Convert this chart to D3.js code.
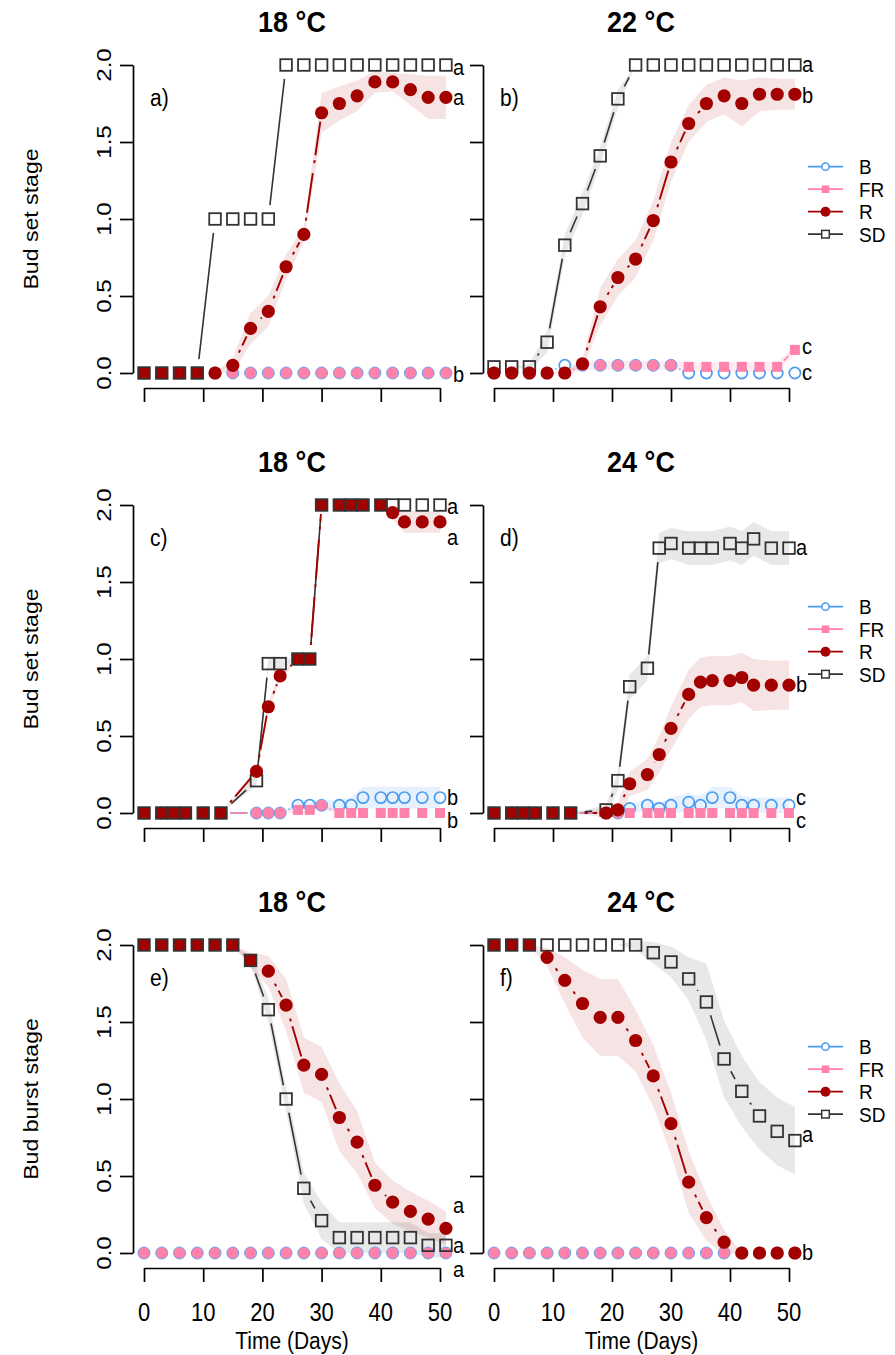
<!DOCTYPE html>
<html><head><meta charset="utf-8">
<script src="https://cdn.jsdelivr.net/npm/d3@7"></script>
<style>
body{margin:0;background:#fff}
svg{display:block}
text{font-family:"Liberation Sans",Arial,Helvetica,sans-serif;fill:#000}
</style>
</head><body>
<svg id="chart" width="895" height="1355"></svg>
<script>
// ---------------- data ----------------
const daysA = [0,3,6,9,12,15,18,21,24,27,30,33,36,39,42,45,48,51];
const daysC = [0,3,5,7,10,13,19,21,23,26,28,30,33,35,37,40,42,44,47,50];
const seriesNames = ["B","FR","R","SD"];
const titles = ["18 °C","22 °C","18 °C","24 °C","18 °C","24 °C"];
const panelLabels = ["a)","b)","c)","d)","e)","f)"];
const yTitles = ["Bud set stage","Bud set stage","Bud burst stage"];
const xTicks = [0,10,20,30,40,50];
const yTicks = [0,0.5,1,1.5,2];
const yTickLabels = ["0.0","0.5","1.0","1.5","2.0"];
const xTitle = "Time (Days)";

// panel a (18 °C, bud set)
const B_a  = [0,0,0,0,0,0,0,0,0,0,0,0,0,0,0,0,0,0];
const FR_a = [0,0,0,0,0,0,0,0,0,0,0,0,0,0,0,0,0,0];
const R_a  = [0,0,0,0,0,0.05,0.29,0.4,0.69,0.9,1.69,1.75,1.8,1.89,1.89,1.84,1.79,1.79];
const SD_a = [0,0,0,0,1,1,1,1,2,2,2,2,2,2,2,2,2,2];
const seR_a = [0,0,0,0,0,0.05,0.1,0.1,0.08,0.05,0.13,0.11,0.1,0.07,0.06,0.1,0.14,0.14];
const letters_a = ["a","a","b"];
const letterVals_a = [1.98,1.79,-0.01];

// panel b (22 °C, bud set)
const B_b  = [0,0,0,0,0.05,0.05,0.05,0.05,0.05,0.05,0.05,0,0,0,0,0,0,0];
const FR_b = [0,0,0,0,0,0.05,0.05,0.05,0.05,0.05,0.05,0.04,0.04,0.04,0.04,0.04,0.04,0.15];
const R_b  = [0,0,0,0,0,0.06,0.43,0.62,0.74,0.99,1.37,1.62,1.75,1.8,1.75,1.81,1.81,1.81];
const SD_b = [0.04,0.04,0.04,0.2,0.83,1.1,1.41,1.78,2,2,2,2,2,2,2,2,2,2];
const seFR_b = [0,0,0,0,0.03,0.03,0.03,0.03,0.03,0.03,0.03,0.03,0.03,0.03,0.03,0.03,0.03,0.03];
const seR_b = [0,0,0,0,0,0.03,0.12,0.12,0.12,0.13,0.13,0.12,0.12,0.12,0.15,0.11,0.1,0.1];
const seSD_b = [0,0,0.02,0.07,0.07,0.07,0.06,0.06,0,0,0,0,0,0,0,0,0,0];
const letters_b = ["a","b","c","c"];
const letterVals_b = [2.0,1.8,0.17,0.0];

// panel c (18 °C, bud set)
const B_c  = [0,0,0,0,0,0,0,0,0,0.05,0.05,0.05,0.05,0.05,0.1,0.1,0.1,0.1,0.1,0.1];
const FR_c = [0,0,0,0,0,0,0,0,0,0.02,0.02,0.05,0,0,0,0,0,0,0,0];
const R_c  = [0,0,0,0,0,0,0.27,0.69,0.89,1,1,2,2,2,2,2,1.95,1.89,1.89,1.89];
const SD_c = [0,0,0,0,0,0,0.21,0.97,0.97,1,1,2,2,2,2,2,2,2,2,2];
const seB_c = [0,0,0,0,0,0,0,0,0,0.02,0.02,0.03,0.04,0.05,0.07,0.07,0.07,0.07,0.07,0.07];
const seFR_c = [0,0,0,0,0,0,0,0,0,0.02,0.02,0.02,0,0,0,0,0,0,0,0];
const seR_c = [0,0,0,0,0,0,0.03,0.03,0.03,0,0,0,0,0,0,0,0.04,0.07,0.07,0.07];
const seSD_c = [0,0,0,0,0,0,0.03,0.04,0.04,0,0,0,0,0,0,0,0,0,0,0];
const letters_c = ["a","a","b","b"];
const letterVals_c = [1.99,1.79,0.1,-0.05];

// panel d (24 °C, bud set)
const B_d  = [0,0,0,0,0,0,0,0,0.03,0.05,0.03,0.05,0.07,0.05,0.1,0.1,0.05,0.05,0.05,0.05];
const FR_d = [0,0,0,0,0,0,0,0,0,0,0,0,0,0,0,0,0,0,0,0];
const R_d  = [0,0,0,0,0,0,0,0.02,0.19,0.25,0.38,0.55,0.77,0.85,0.86,0.86,0.88,0.83,0.83,0.83];
const SD_d = [0,0,0,0,0,0,0.02,0.21,0.82,0.94,1.72,1.75,1.72,1.72,1.72,1.75,1.72,1.78,1.72,1.72];
const seB_d = [0,0,0,0,0,0,0,0.02,0.03,0.04,0.04,0.05,0.06,0.06,0.07,0.07,0.06,0.05,0.05,0.05];
const seR_d = [0,0,0,0,0,0,0.03,0.05,0.08,0.1,0.12,0.14,0.16,0.16,0.16,0.16,0.16,0.17,0.16,0.16];
const seSD_d = [0,0,0,0,0,0,0.03,0.06,0.08,0.08,0.1,0.1,0.11,0.11,0.11,0.11,0.11,0.11,0.11,0.11];
const letters_d = ["a","b","c","c"];
const letterVals_d = [1.72,0.83,0.1,-0.05];

// panel e (18 °C, bud burst)
const B_e  = [0,0,0,0,0,0,0,0,0,0,0,0,0,0,0,0,0,0];
const FR_e = [0,0,0,0,0,0,0,0,0,0,0,0,0,0,0,0,0,0];
const R_e  = [2,2,2,2,2,2,1.9,1.83,1.61,1.22,1.16,0.88,0.72,0.44,0.33,0.27,0.22,0.16];
const SD_e = [2,2,2,2,2,2,1.9,1.58,1.0,0.42,0.21,0.1,0.1,0.1,0.1,0.1,0.05,0.05];
const seR_e = [0,0,0,0,0,0,0.05,0.1,0.17,0.18,0.18,0.22,0.2,0.15,0.14,0.13,0.12,0.11];
const seSD_e = [0,0,0,0,0,0,0.03,0.08,0.08,0.1,0.12,0.1,0.1,0.1,0.1,0.1,0.08,0.08];
const letters_e = ["a","a","a"];
const letterVals_e = [0.31,0.05,-0.11];

// panel f (24 °C, bud burst)
const B_f  = [0,0,0,0,0,0,0,0,0,0,0,0,0,0,0,0,0,0];
const FR_f = [0,0,0,0,0,0,0,0,0,0,0,0,0,0,0,0,0,0];
const R_f  = [2,2,2,1.92,1.77,1.62,1.53,1.53,1.38,1.15,0.84,0.46,0.23,0.07,0,0,0,0];
const SD_f = [2,2,2,2,2,2,2,2,2,1.95,1.89,1.78,1.63,1.26,1.05,0.89,0.79,0.73];
const seR_f = [0,0,0,0.06,0.15,0.22,0.25,0.25,0.2,0.2,0.2,0.2,0.15,0.08,0,0,0,0];
const seSD_f = [0,0,0,0,0,0,0,0,0.03,0.07,0.1,0.14,0.25,0.25,0.23,0.22,0.22,0.22];
const letters_f = ["a","b"];
const letterVals_f = [0.77,0.0];

// ---------------- styles ----------------
const col = {B:"#4b9cf0", FR:"#ff82ab", R:"#a30000", SD:"#333333"};
const bandCol = {B:"rgba(70,150,240,0.13)", FR:"rgba(255,110,160,0.13)", R:"rgba(175,0,0,0.11)", SD:"rgba(0,0,0,0.09)"};

const panels = [
  {row:0,col:0,days:daysA,B:B_a,FR:FR_a,R:R_a,SD:SD_a,se:{R:seR_a},letters:letters_a,lv:letterVals_a},
  {row:0,col:1,days:daysA,B:B_b,FR:FR_b,R:R_b,SD:SD_b,se:{FR:seFR_b,R:seR_b,SD:seSD_b},letters:letters_b,lv:letterVals_b},
  {row:1,col:0,days:daysC,B:B_c,FR:FR_c,R:R_c,SD:SD_c,se:{B:seB_c,FR:seFR_c,R:seR_c,SD:seSD_c},letters:letters_c,lv:letterVals_c},
  {row:1,col:1,days:daysC,B:B_d,FR:FR_d,R:R_d,SD:SD_d,se:{B:seB_d,R:seR_d,SD:seSD_d},letters:letters_d,lv:letterVals_d},
  {row:2,col:0,days:daysA,B:B_e,FR:FR_e,R:R_e,SD:SD_e,se:{R:seR_e,SD:seSD_e},letters:letters_e,lv:letterVals_e},
  {row:2,col:1,days:daysA,B:B_f,FR:FR_f,R:R_f,SD:SD_f,se:{R:seR_f,SD:seSD_f},letters:letters_f,lv:letterVals_f}
];

const svg = d3.select("#chart");
const ROWH = 440;
const xScales = [
  d3.scaleLinear().domain([0,50]).range([144,440]),
  d3.scaleLinear().domain([0,50]).range([494,789])
];
const axisX = [133, 483];
const yScale = r => d3.scaleLinear().domain([0,2]).range([373 + ROWH*r, 65 + ROWH*r]);

function htext(parent, x, y, str, size, opts={}){
  const sy = opts.sy || 1.12;
  const t = parent.append("text")
    .attr("transform", `translate(${x},${y}) scale(1,${sy})`)
    .attr("font-size", size).text(str);
  if (opts.anchor) t.attr("text-anchor", opts.anchor);
  if (opts.weight) t.attr("font-weight", opts.weight);
  if (opts.dy) t.attr("dy", opts.dy);
  return t;
}
function vtext(parent, x, y, str, size, sx){
  return parent.append("text")
    .attr("transform", `translate(${x},${y}) rotate(-90) scale(${sx},1)`)
    .attr("text-anchor","middle").attr("dy","0.35em").attr("font-size", size).text(str);
}

function gapSegs(pts, g){
  const out = [];
  for (let i=0;i<pts.length-1;i++){
    const [x0,y0]=pts[i],[x1,y1]=pts[i+1];
    const dx=x1-x0, dy=y1-y0, L=Math.hypot(dx,dy);
    if (L>2*g) out.push([x0+dx*g/L,y0+dy*g/L,x1-dx*g/L,y1-dy*g/L]);
  }
  return out;
}

panels.forEach((p,pi)=>{
  const x = xScales[p.col], y = yScale(p.row);
  const g = svg.append("g");

  ["B","FR","SD","R"].forEach(s=>{
    const se = p.se[s]; if(!se) return;
    const area = d3.area()
      .x((d,i)=>x(p.days[i]))
      .y0((d,i)=>y(p[s][i]-se[i]))
      .y1((d,i)=>y(p[s][i]+se[i]));
    g.append("path").attr("d", area(p.days)).attr("fill", bandCol[s]).attr("stroke","none");
  });

  const lineStyle = {
    B:{g:9,w:1.5,dash:null},
    FR:{g:9,w:1.5,dash:null},
    SD:{g:14,w:1.6,dash:null},
    R:{g:9,w:1.9,dash:"0,5,3,5,40,5"}
  };
  ["B","FR","SD","R"].forEach(s=>{
    const pts = p.days.map((d,i)=>[x(d), y(p[s][i])]);
    const st = lineStyle[s];
    g.selectAll(null).data(gapSegs(pts, st.g)).enter().append("line")
      .attr("x1",d=>d[0]).attr("y1",d=>d[1]).attr("x2",d=>d[2]).attr("y2",d=>d[3])
      .attr("stroke", col[s]).attr("stroke-width", st.w)
      .attr("stroke-dasharray", st.dash);
  });

  p.days.forEach((d,i)=>{
    const cx = x(d);
    if (p.B[i] === p.FR[i]) {
      g.append("circle").attr("cx",cx).attr("cy",y(p.B[i])).attr("r",6)
        .attr("fill",col.FR).attr("stroke",col.B).attr("stroke-width",1).attr("stroke-opacity",0.8);
    } else {
      g.append("circle").attr("cx",cx).attr("cy",y(p.B[i])).attr("r",5.6)
        .attr("fill","none").attr("stroke",col.B).attr("stroke-width",1.7);
      g.append("rect").attr("x",cx-5).attr("y",y(p.FR[i])-5).attr("width",10).attr("height",10)
        .attr("fill",col.FR);
    }
  });
  p.days.forEach((d,i)=>{
    const cx = x(d), cy = y(p.SD[i]);
    const same = p.SD[i] === p.R[i];
    g.append("rect").attr("x",cx-5.8).attr("y",cy-5.8).attr("width",11.6).attr("height",11.6)
      .attr("fill", same ? col.R : "none").attr("stroke",col.SD).attr("stroke-width",1.8);
  });
  p.days.forEach((d,i)=>{
    if (p.SD[i] === p.R[i]) return;
    g.append("circle").attr("cx",x(d)).attr("cy",y(p.R[i])).attr("r",6.6).attr("fill",col.R);
  });

  const lastX = x(p.days[p.days.length-1]);
  p.letters.forEach((t,i)=>{
    htext(g, lastX+7, y(p.lv[i]), t, 20, {dy:"0.33em", sy:1.1});
  });

  const xa = d3.axisBottom(x).tickValues(xTicks).tickSize(14).tickSizeOuter(0).tickFormat("");
  const gx = svg.append("g").attr("transform",`translate(0,${388 + ROWH*p.row})`).call(xa);
  const ya = d3.axisLeft(y).tickValues(yTicks).tickSize(13).tickSizeOuter(0).tickFormat("");
  const gy = svg.append("g").attr("transform",`translate(${axisX[p.col]},0)`).call(ya);
  [gx,gy].forEach(a=>{
    a.select(".domain").attr("stroke","#000").attr("stroke-width",1.7);
    a.selectAll(".tick line").attr("stroke","#000").attr("stroke-width",1.7);
  });
  if (p.row===2){
    xTicks.forEach(v=>{
      htext(svg, x(v), 1321, String(v), 22, {anchor:"middle", sy:1.15});
    });
    htext(svg, x(25), 1349, xTitle, 21, {anchor:"middle", sy:1.12});
  }
  if (p.col===0){
    yTicks.forEach((v,i)=>{ vtext(svg, 104, y(v), yTickLabels[i], 21, 1.15); });
    vtext(svg, 31, (y(0)+y(2))/2, yTitles[p.row], 21, 1.1);
  }
  htext(svg, p.col===0 ? 292 : 641, 32 + ROWH*p.row, titles[pi], 27, {anchor:"middle", weight:"bold", sy:1.12});
  htext(svg, p.col===0 ? 150 : 500, 106 + ROWH*p.row, panelLabels[pi], 21, {sy:1.12});
});

[0,1,2].forEach(r=>{
  const lg = svg.append("g").attr("transform",`translate(0,${166.7 + ROWH*r})`);
  seriesNames.forEach((s,i)=>{
    const yy = i*22.5;
    lg.append("line").attr("x1",808).attr("x2",843).attr("y1",yy).attr("y2",yy)
      .attr("stroke",col[s]).attr("stroke-width",1.8);
    const cx = 825.5;
    if (s==="B") lg.append("circle").attr("cx",cx).attr("cy",yy).attr("r",3.6).attr("fill","#fff").attr("stroke",col.B).attr("stroke-width",1.5);
    if (s==="FR") lg.append("rect").attr("x",cx-3.8).attr("y",yy-3.8).attr("width",7.6).attr("height",7.6).attr("fill",col.FR);
    if (s==="R") lg.append("circle").attr("cx",cx).attr("cy",yy).attr("r",5).attr("fill",col.R);
    if (s==="SD") lg.append("rect").attr("x",cx-3.8).attr("y",yy-3.8).attr("width",7.6).attr("height",7.6).attr("fill","#fff").attr("stroke",col.SD).attr("stroke-width",1.5);
    htext(lg, 859, yy, s, 19, {dy:"0.36em", sy:1.1});
  });
});
</script>
</body></html>
